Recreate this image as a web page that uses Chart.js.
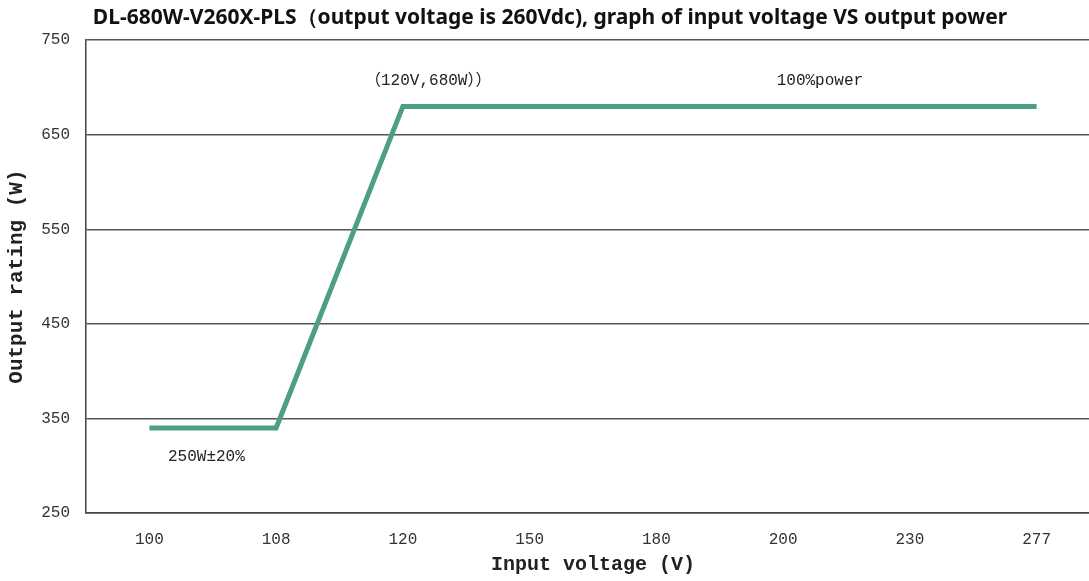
<!DOCTYPE html>
<html>
<head>
<meta charset="utf-8">
<script src="https://cdn.jsdelivr.net/npm/chart.js@4.4.1/dist/chart.umd.min.js"></script>
<style>
  html, body { margin: 0; padding: 0; background: #fff; overflow: hidden; }
  #wrap { width: 1100px; height: 581px; }
</style>
</head>
<body>
<div id="wrap"><canvas id="c" width="1100" height="581"></canvas></div>
<script>
// input voltage categories and output power (W)
var voltages = ['100', '108', '120', '150', '180', '200', '230', '277'];
var power = [340, 340, 680, null, null, null, null, 680];

// notes written on the chart
var noteTexts = ['（120V,680W））', '100%power', '250W±20%'];
var noteAt = [2.2, 5.29, 0.45];     // category position
var noteValues = [707, 707, 309];   // output power position

var monoFont = '"Liberation Mono", "Noto Sans CJK SC", monospace';

var notesPlugin = {
  id: 'notes',
  afterDatasetsDraw: function(chart){
    var ctx = chart.ctx;
    var xs = chart.scales.x, ys = chart.scales.y;
    ctx.save();
    ctx.font = '16px ' + monoFont;
    ctx.fillStyle = '#222';
    ctx.textAlign = 'center';
    ctx.textBaseline = 'middle';
    for(var i in noteTexts){
      ctx.fillText(noteTexts[i], xs.getPixelForValue(noteAt[i]), ys.getPixelForValue(noteValues[i]));
    }
    ctx.restore();
  }
};

new Chart(document.getElementById('c'), {
  type: 'line',
  data: {
    labels: voltages,
    datasets: [{
      data: power,
      spanGaps: true,
      borderColor: '#4c9f85',
      borderWidth: 5,
      pointRadius: 0,
      tension: 0,
      fill: false
    }]
  },
  options: {
    responsive: false,
    animation: false,
    layout: { padding: 0 },
    plugins: {
      legend: { display: false },
      tooltip: { enabled: false },
      title: {
        display: true,
        text: 'DL-680W-V260X-PLS（output voltage is 260Vdc), graph of input voltage VS output power',
        color: '#111',
        font: { family: '"Noto Sans", sans-serif', size: 21, weight: 'bold' },
        padding: { top: 5, bottom: 10 }
      }
    },
    scales: {
      x: {
        offset: true,
        grid: { display: false, drawTicks: false },
        border: { color: '#444', width: 1.5 },
        ticks: { color: '#333', font: { family: monoFont, size: 16 }, padding: 17 },
        title: {
          display: true,
          text: 'Input voltage (V)',
          color: '#222',
          font: { family: monoFont, size: 20, weight: 'bold' },
          padding: { top: 1 }
        },
        afterFit: function(s){ s.height = 68; }
      },
      y: {
        min: 250,
        max: 750,
        grid: { color: '#555', lineWidth: 1.5, drawTicks: false },
        border: { color: '#444', width: 1.5 },
        ticks: { stepSize: 100, color: '#333', font: { family: monoFont, size: 16 }, padding: 16 },
        title: {
          display: true,
          text: 'Output rating (W)',
          color: '#222',
          font: { family: monoFont, size: 21, weight: 'bold' },
          padding: { bottom: 4 }
        },
        afterFit: function(s){ s.width = 86; }
      }
    }
  },
  plugins: [notesPlugin]
});
</script>
</body>
</html>
